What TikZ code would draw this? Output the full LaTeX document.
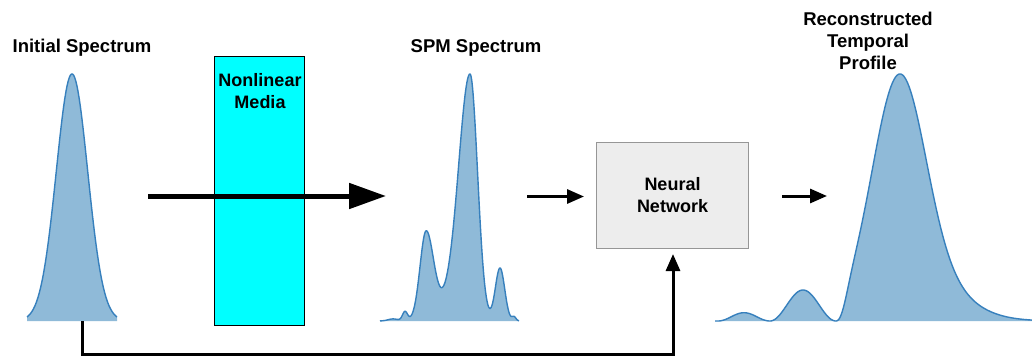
\documentclass[tikz,border=0pt]{standalone}
\usepackage{fontspec}
\setmainfont{Liberation Sans}
\usetikzlibrary{arrows.meta}

\definecolor{specfill}{RGB}{143,186,216}
\definecolor{specline}{RGB}{55,128,189}
\definecolor{mediacyan}{RGB}{0,255,255}
\definecolor{nnfill}{RGB}{237,237,237}
\definecolor{nnline}{RGB}{150,150,150}

% Gaussian bump: gs(x, centre, sigma)
\pgfmathdeclarefunction{gs}{3}{%
  \begingroup
    \pgfmathparse{exp(-min(((#1-(#2))/(#3))^2/2,12))}%
    \pgfmathsmuggle\pgfmathresult
  \endgroup}
% asymmetric Gaussian: ag(x, centre, left sigma, right sigma)
\pgfmathdeclarefunction{ag}{4}{%
  \begingroup
    \pgfmathparse{(#1<#2)*gs(#1,#2,#3)+(#1>=#2)*gs(#1,#2,#4)}%
    \pgfmathsmuggle\pgfmathresult
  \endgroup}
% side lobe: lobe(x, start, width) = sin^2 arch on [start, start+width], else 0
\pgfmathdeclarefunction{lobe}{3}{%
  \begingroup
    \pgfmathparse{(#1>=#2)*(#1<#2+#3)*pow(sin(max(min((#1-(#2))/(#3),1),0)*180),2)}%
    \pgfmathsmuggle\pgfmathresult
  \endgroup}

% filled spectrum between x = #2 and x = #3, height given by #4 (in \x)
\newcommand\spectrumcurve[4][200]{%
  \fill[specfill] (#2,321) -- plot[domain=#2:#3,samples=#1] (\x,{321-(#4)}) -- (#3,321) -- cycle;
  \draw[specline,line width=1.4pt,line join=round]
    plot[domain=#2:#3,samples=#1] (\x,{321-(#4)});}

\tikzset{
  title/.style={font=\bfseries\fontsize{18.5}{22}\selectfont, align=center, inner sep=0pt},
  boxlabel/.style={font=\bfseries\fontsize{18}{22}\selectfont, align=center, inner sep=0pt},
  beam/.style={line width=5pt, -{Triangle[length=37pt,width=25pt]}},
  flow/.style={line width=3pt, -{Triangle[length=17pt,width=14pt]}},
}

\begin{document}
\begin{tikzpicture}[x=1pt,y=-1pt]
\useasboundingbox (0,0) rectangle (1032,359);
\fill[white] (0,0) rectangle (1032,359);

% titles
\node[title] (initT) at (82,47.5) {Initial Spectrum};
\node[title] (spmT) at (476,47.5) {SPM Spectrum};
\node[title] (recT) at (868,40.5) {Reconstructed\\Temporal\\Profile};

% initial Gaussian spectrum
\spectrumcurve[150]{27}{117}{247*gs(\x,72,15.7)}

% nonlinear medium
\node[draw=black, line width=1.5pt, fill=mediacyan, minimum width=90pt,
      minimum height=269pt, inner sep=0pt] (media) at (259.5,191) {};
\node[boxlabel] (mediaT) at (260,91) {Nonlinear\\Media};

% beam through the medium
\coordinate (beamIn) at (148,196);
\coordinate (beamOut) at (386,196);
\draw[beam] (beamIn) -- (beamOut);

% broadened SPM spectrum
\spectrumcurve[300]{380}{519}{247*((\x<470)*(0.85*gs(\x,470,11)+0.15*gs(\x,470,22))+(\x>=470)*gs(\x,470,7.5))+85*ag(\x,426,6,7.5)+53*gs(\x,500,4.7)+9*gs(\x,405,2.5)+4*gs(\x,514,2)+2*gs(\x,393,5)}

% neural network block
\node[draw=nnline, line width=1pt, fill=nnfill, minimum width=152pt,
      minimum height=106pt, inner sep=0pt, font=\bfseries\fontsize{18}{22}\selectfont,
      align=center] (nn) at (672.5,195.5) {Neural\\Network};

\coordinate (spmOut) at (527,196.5);
\draw[flow, shorten >=12pt] (spmOut) -- (nn.west |- spmOut);
\coordinate (recIn) at (827,196);
\draw[flow, shorten <=33pt] (nn.east |- recIn) -- (recIn);

% reconstructed temporal profile
\spectrumcurve[400]{715}{1032}{8.3*lobe(\x,718,52)+31*lobe(\x,770,66)+(\x>=836)*(\x<900)*247*gs(\x,900,28)*(1-exp(-min(((\x-836)/10)^2,12)))+(\x>=900)*247*(0.72*gs(\x,900,25)+0.28*gs(\x,900,45))}

% initial spectrum fed to the network
\coordinate (initBase) at (82.3,321);
\draw[flow, shorten >=5pt] (initBase) -- ++(0,33) -| ([xshift=0.5pt]nn.south);
\end{tikzpicture}
\end{document}
